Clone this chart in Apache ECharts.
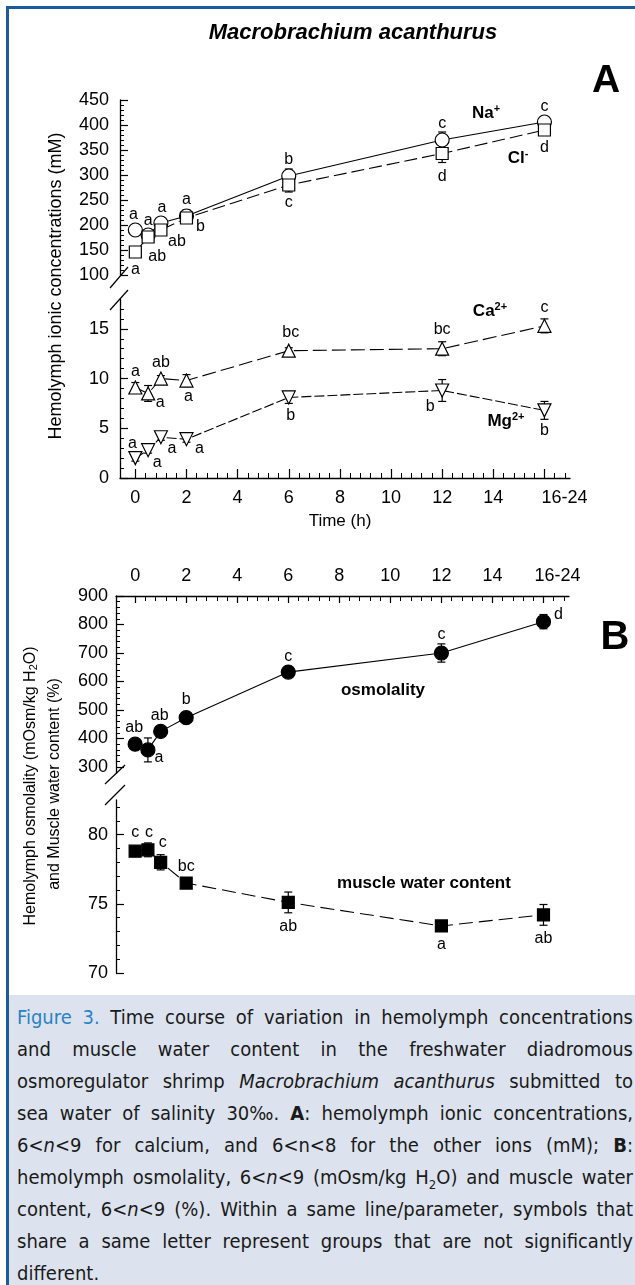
<!DOCTYPE html>
<html>
<head>
<meta charset="utf-8">
<script src="https://cdn.jsdelivr.net/npm/echarts@6/dist/echarts.min.js"></script>
<style>
  html, body { margin: 0; padding: 0; background: #fff; overflow: hidden; width: 635px; height: 1285px; }
  #frame { position: absolute; left: 6px; top: 6px; width: 700px; height: 1300px;
    border-top: 3px solid #1d5c98; border-left: 3px solid #1d5c98; box-sizing: border-box; }
  #chart { position: absolute; left: 0; top: 0; width: 635px; height: 995px; }
  #caption { position: absolute; left: 9px; top: 995px; width: 626px; height: 290px; background: #dce3ee;
    font-family: 'Liberation Sans Narrow', 'DejaVu Sans Condensed', 'Roboto Condensed', 'Liberation Sans', sans-serif;
    font-stretch: condensed; font-size: 20px; color: #1a1a1a; padding-top: 6px; box-sizing: border-box; }
  #caption .ln { margin-left: 8px; width: 616px; height: 32px; line-height: 32px; white-space: nowrap;
    text-align: justify; text-align-last: justify; }
  #caption .ln.last { text-align-last: left; }
  #caption .fig { color: #2a82c4; }
  #caption .nb { display: inline-block; }
</style>
</head>
<body>
<div id="frame"></div>
<div id="chart"></div>
<div id="caption">
  <div class="ln"><span class="fig">Figure 3.</span> Time course of variation in hemolymph concentrations</div>
  <div class="ln">and muscle water content in the freshwater diadromous</div>
  <div class="ln">osmoregulator shrimp <i>Macrobrachium acanthurus</i> submitted to</div>
  <div class="ln">sea water of salinity <span class="nb">30‰.</span> <b>A</b>: hemolymph ionic concentrations,</div>
  <div class="ln">6&lt;<i>n</i>&lt;9 for calcium, and 6&lt;n&lt;8 for the other ions (mM); <b>B</b>:</div>
  <div class="ln">hemolymph osmolality, 6&lt;<i>n</i>&lt;9 (mOsm/kg H<sub style="font-size:13px">2</sub>O) and muscle water</div>
  <div class="ln">content, 6&lt;<i>n</i>&lt;9 (%). Within a same line/parameter, symbols that</div>
  <div class="ln">share a same letter represent groups that are not significantly</div>
  <div class="ln last">different.</div>
</div>
<script>
// sampling times (h); the last one stands for 16-24 h
const times = [0, 0.5, 1, 2, 6, 12, 16]

// panel A, mM
const naVals = [190, 180, 204, 218, 298, 370, 406]
const naErr = [3, 5, 8, 12, 14, 16, 5]
const naLetters = ['a', 'a', 'a', 'a', 'b', 'c', 'c']
const clVals = [146, 176, 190, 214, 280, 343, 390]
const clErr = [3, 9, 6, 10, 14, 18, 5]
const clLetters = ['a', 'ab', 'ab', 'b', 'c', 'd', 'd']
const caVals = [9.1, 8.5, 10.0, 9.8, 12.8, 13.0, 15.3]
const caErr = [0.5, 0.8, 0.3, 0.6, 0.3, 0.7, 0.7]
const caLetters = ['a', 'a', 'ab', 'a', 'bc', 'bc', 'c']
const mgVals = [2.0, 2.8, 4.1, 3.9, 8.1, 8.8, 6.8]
const mgErr = [0.3, 0.3, 0.3, 0.3, 0.6, 1.1, 0.9]
const mgLetters = ['a', 'a', 'a', 'a', 'b', 'b', 'b']

// panel B
const osmVals = [380, 360, 425, 473, 633, 700, 810]
const osmErr = [15, 42, 15, 10, 12, 32, 25]
const osmLetters = ['ab', 'a', 'ab', 'b', 'c', 'c', 'd']
const waterVals = [78.8, 78.9, 78.0, 76.5, 75.1, 73.4, 74.2]
const waterErr = [0.2, 0.5, 0.55, 0.2, 0.75, 0.15, 0.75]
const waterLetters = ['c', 'c', 'c', 'bc', 'ab', 'a', 'ab']

// tick labels
const timeTicks = [0, 2, 4, 6, 8, 10, 12, 14, 16]
const naClTicks = [100, 150, 200, 250, 300, 350, 400, 450]
const caMgTicks = [0, 5, 10, 15]
const osmTicks = [300, 400, 500, 600, 700, 800, 900]
const waterTicks = [70, 75, 80]

// letter placement (px from marker centre)
const naOff = [[-2, -15], [0, -14], [1, -15], [0, -16], [0, -16], [0, -16], [0, -15]]
const clOff = [[0, 18], [9, 20], [16, 12], [14, 9], [0, 18], [0, 23], [0, 18]]
const caOff = [[0, -16], [12, 9], [0, -16], [2, 16], [2, -18], [0, -19], [0, -18]]
const mgOff = [[-3, -15], [9, 12], [11, 11], [13, 9], [2, 18], [-12, 16], [0, 20]]
const osmOff = [[-1, -17], [11, 8], [-1, -16], [0, -18], [0, -16], [0, -18], [15, -7]]
const waterOff = [[0, -19], [1, -17], [2, -20], [0, -16], [0, 24], [0, 19], [0, 24]]

const FONT = 'Liberation Sans, Arial, sans-serif'
const BLACK = '#000'

function minorTicks(from, to, step, majors) {
  const out = []
  for (let v = from; v <= to + 1e-9; v += step) {
    const r = Math.round(v * 100) / 100
    if (majors.indexOf(r) < 0) out.push(r)
  }
  return out
}

function xAxisOf(grid, min, pos, opts) {
  return Object.assign({
    type: 'value', gridIndex: grid, min: min, max: 17, position: pos,
    axisLine: { show: true, onZero: false, lineStyle: { color: BLACK, width: 1.3 } },
    axisTick: { show: true, inside: true, length: 9, customValues: timeTicks, lineStyle: { color: BLACK, width: 1.2 } },
    axisLabel: {
      customValues: timeTicks, color: BLACK, fontSize: 18, fontFamily: FONT, margin: 11,
      formatter: v => v === 16 ? '{s|16-24}' : String(v),
      rich: { s: { fontSize: 18, fontFamily: FONT, color: BLACK, padding: [0, 0, 0, pos === 'top' ? 28 : 40] } }
    },
    splitLine: { show: false }
  }, opts || {})
}
function xMinorOf(grid, min, pos) {
  return {
    type: 'value', gridIndex: grid, min: min, max: 17, position: pos,
    axisLine: { show: false, onZero: false },
    axisTick: { show: true, inside: true, length: 5, customValues: minorTicks(0, 16.8, 0.4, timeTicks), lineStyle: { color: BLACK, width: 1 } },
    axisLabel: { show: false }, splitLine: { show: false }
  }
}
function yAxisOf(grid, min, max, ticks, margin) {
  return {
    type: 'value', gridIndex: grid, min: min, max: max, position: 'left',
    axisLine: { show: true, onZero: false, lineStyle: { color: BLACK, width: 1.3 } },
    axisTick: { show: true, inside: true, length: 8, customValues: ticks, lineStyle: { color: BLACK, width: 1.2 } },
    axisLabel: { customValues: ticks, color: BLACK, fontSize: 18, fontFamily: FONT, margin: margin },
    splitLine: { show: false }
  }
}
function yMinorOf(grid, min, max, vals) {
  return {
    type: 'value', gridIndex: grid, min: min, max: max, position: 'left',
    axisLine: { show: false, onZero: false },
    axisTick: { show: true, inside: true, length: 4, customValues: vals, lineStyle: { color: BLACK, width: 1 } },
    axisLabel: { show: false }, splitLine: { show: false }
  }
}

function drawBar(params, api) {
  const x = api.value(0)
  const lo = api.coord([x, api.value(1)])
  const hi = api.coord([x, api.value(2)])
  const st = { stroke: BLACK, lineWidth: 1.2 }
  return {
    type: 'group',
    children: [
      { type: 'line', shape: { x1: lo[0], y1: lo[1], x2: hi[0], y2: hi[1] }, style: st },
      { type: 'line', shape: { x1: lo[0] - 4, y1: lo[1], x2: lo[0] + 4, y2: lo[1] }, style: st },
      { type: 'line', shape: { x1: hi[0] - 4, y1: hi[1], x2: hi[0] + 4, y2: hi[1] }, style: st }
    ]
  }
}
function errSeries(xi, yi, vals, err) {
  return {
    type: 'custom', xAxisIndex: xi, yAxisIndex: yi, renderItem: drawBar, silent: true, z: 1,
    encode: { x: 0, y: [1, 2] },
    data: times.map((t, i) => [t, vals[i] - err[i], vals[i] + err[i]])
  }
}
function lineSeries(xi, yi, vals, letters, offs, mark) {
  return {
    type: 'line', xAxisIndex: xi, yAxisIndex: yi, z: 3, silent: true,
    symbol: mark.symbol, symbolSize: mark.size, symbolRotate: mark.rotate || 0, showSymbol: true,
    itemStyle: { color: mark.fill, borderColor: BLACK, borderWidth: 1.2, opacity: 1 },
    lineStyle: { color: BLACK, width: 1.1, type: mark.dash || 'solid' },
    data: times.map((t, i) => ({
      value: [t, vals[i]],
      label: {
        show: true, position: 'inside', offset: offs[i], formatter: letters[i],
        color: BLACK, fontSize: 16, fontFamily: FONT
      }
    }))
  }
}

function txt(x, y, text, font, extra) {
  return Object.assign({
    type: 'text', x: x, y: y, silent: true,
    style: { text: text, font: font, fill: BLACK, align: 'center', verticalAlign: 'middle' }
  }, extra || {})
}
function ionLabel(x, y, base, sup) {
  return {
    type: 'text', x: x, y: y, silent: true,
    style: {
      text: '{b|' + base + '}{s|' + sup + '}', align: 'center', verticalAlign: 'middle',
      rich: {
        b: { font: 'bold 17px ' + FONT, fill: BLACK, color: BLACK },
        s: { font: 'bold 11px ' + FONT, fill: BLACK, color: BLACK, verticalAlign: 'top', padding: [0, 0, 9, 0] }
      }
    }
  }
}
function brk(x1, y1, x2, y2) {
  return { type: 'line', silent: true, shape: { x1: x1, y1: y1, x2: x2, y2: y2 }, style: { stroke: BLACK, lineWidth: 1.2 } }
}

const myChart = echarts.init(document.getElementById('chart'))
const option = {
  animation: false,
  grid: [
    { left: 120, top: 100, width: 450, height: 175 },
    { left: 120, top: 299, width: 450, height: 179 },
    { left: 116, top: 596, width: 453, height: 177 },
    { left: 116, top: 800, width: 453, height: 173 }
  ],
  xAxis: [
    xAxisOf(0, -0.6, 'bottom', { show: false }),
    xAxisOf(1, -0.6, 'bottom'),
    xMinorOf(1, -0.6, 'bottom'),
    xAxisOf(2, -0.75, 'top', { axisTick: { show: true, inside: true, length: 7, customValues: timeTicks, lineStyle: { color: BLACK, width: 1.2 } } }),
    xMinorOf(2, -0.75, 'top'),
    xAxisOf(3, -0.75, 'bottom', { show: false })
  ],
  yAxis: [
    yAxisOf(0, 100, 450, naClTicks, 11),
    yMinorOf(0, 100, 450, minorTicks(110, 440, 10, naClTicks)),
    yAxisOf(1, 0, 18, caMgTicks, 11),
    yMinorOf(1, 0, 18, minorTicks(1, 17, 1, caMgTicks)),
    yAxisOf(2, 279, 900, osmTicks, 8),
    yMinorOf(2, 279, 900, minorTicks(300, 900, 20, osmTicks)),
    yAxisOf(3, 70, 82.5, waterTicks, 8),
    yMinorOf(3, 70, 82.5, minorTicks(71, 82, 1, waterTicks))
  ],
  series: [
    errSeries(0, 0, naVals, naErr),
    errSeries(0, 0, clVals, clErr),
    errSeries(1, 2, caVals, caErr),
    errSeries(1, 2, mgVals, mgErr),
    errSeries(3, 4, osmVals, osmErr),
    errSeries(5, 6, waterVals, waterErr),
    lineSeries(0, 0, naVals, naLetters, naOff, { symbol: 'circle', size: 14, fill: '#fff' }),
    lineSeries(0, 0, clVals, clLetters, clOff, { symbol: 'rect', size: 12, fill: '#fff', dash: [13, 5] }),
    lineSeries(1, 2, caVals, caLetters, caOff, { symbol: 'triangle', size: 13, fill: '#fff', dash: [14, 5] }),
    lineSeries(1, 2, mgVals, mgLetters, mgOff, { symbol: 'triangle', size: 13, fill: '#fff', rotate: 180, dash: [10, 3] }),
    lineSeries(3, 4, osmVals, osmLetters, osmOff, { symbol: 'circle', size: 14, fill: BLACK }),
    lineSeries(5, 6, waterVals, waterLetters, waterOff, { symbol: 'rect', size: 12, fill: BLACK, dash: [14, 6] })
  ],
  graphic: [
    txt(353, 33, 'Macrobrachium acanthurus', 'italic bold 22px ' + FONT),
    txt(606, 81, 'A', 'bold 39px ' + FONT),
    txt(615, 638, 'B', 'bold 40px ' + FONT),
    txt(56, 286, 'Hemolymph ionic concentrations (mM)', '18px ' + FONT, { rotation: Math.PI / 2 }),
    txt(340, 521, 'Time (h)', '17px ' + FONT),
    {
      type: 'text', x: 31, y: 786, rotation: Math.PI / 2, silent: true,
      style: {
        text: '{n|Hemolymph osmolality (mOsm/kg H}{d|2}{n|O)}', align: 'center', verticalAlign: 'middle',
        rich: {
          n: { font: '16px ' + FONT, fill: BLACK, color: BLACK },
          d: { font: '11px ' + FONT, fill: BLACK, color: BLACK, verticalAlign: 'bottom', padding: [6, 0, 0, 0] }
        }
      }
    },
    txt(55, 784, 'and Muscle water content (%)', '16px ' + FONT, { rotation: Math.PI / 2 }),
    ionLabel(486, 113, 'Na', '+'),
    ionLabel(518, 158, 'Cl', '-'),
    ionLabel(490, 311, 'Ca', '2+'),
    ionLabel(506, 421, 'Mg', '2+'),
    txt(383, 690, 'osmolality', 'bold 17px ' + FONT),
    txt(424, 883, 'muscle water content', 'bold 17px ' + FONT),
    brk(110, 288, 128, 267),
    brk(110, 310, 128, 290),
    brk(105, 784, 125, 765),
    brk(105, 805, 125, 785)
  ]
}

option && myChart.setOption(option)
</script>
</body>
</html>
